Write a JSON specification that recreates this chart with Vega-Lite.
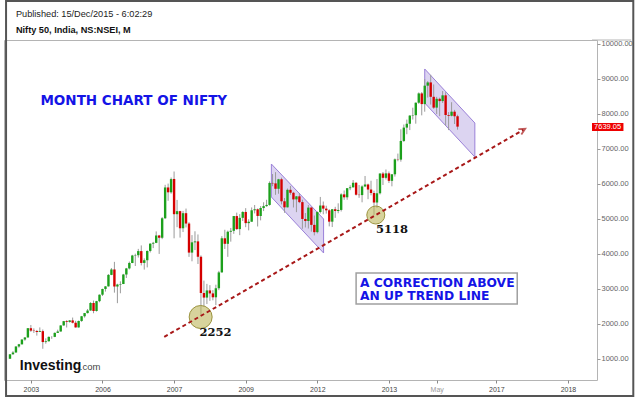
{
  "$schema": "https://vega.github.io/schema/vega-lite/v6.json",
  "width": 593,
  "height": 340,
  "autosize": {"type": "none"},
  "padding": {"left": 4, "top": 40, "right": 43, "bottom": 17},
  "background": "white",
  "config": {"view": {"stroke": "#b4b4b4", "strokeWidth": 1}, "font": "Liberation Sans"},
  "resolve": {"axis": {"x": "independent", "y": "independent"}},
  "datasets": {
    "candles": [
      {"i":0,"open":1007,"high":1139,"low":1006,"close":1134},
      {"i":1,"open":1134,"high":1225,"low":1120,"close":1185},
      {"i":2,"open":1185,"high":1366,"low":1180,"close":1356},
      {"i":3,"open":1356,"high":1432,"low":1322,"close":1418},
      {"i":4,"open":1418,"high":1564,"low":1418,"close":1556},
      {"i":5,"open":1556,"high":1626,"low":1520,"close":1615},
      {"i":6,"open":1615,"high":1884,"low":1612,"close":1880},
      {"i":7,"open":1880,"high":1972,"low":1775,"close":1810},
      {"i":8,"open":1810,"high":1875,"low":1745,"close":1801},
      {"i":9,"open":1801,"high":1830,"low":1668,"close":1772},
      {"i":10,"open":1772,"high":1903,"low":1769,"close":1796},
      {"i":11,"open":1796,"high":1843,"low":1292,"close":1484},
      {"i":12,"open":1484,"high":1590,"low":1437,"close":1506},
      {"i":13,"open":1506,"high":1645,"low":1500,"close":1632},
      {"i":14,"open":1632,"high":1652,"low":1576,"close":1632},
      {"i":15,"open":1632,"high":1760,"low":1624,"close":1746},
      {"i":16,"open":1746,"high":1838,"low":1745,"close":1786},
      {"i":17,"open":1786,"high":1962,"low":1780,"close":1959},
      {"i":18,"open":1959,"high":2088,"low":1950,"close":2081},
      {"i":19,"open":2081,"high":2110,"low":1900,"close":2058},
      {"i":20,"open":2058,"high":2111,"low":2040,"close":2103},
      {"i":21,"open":2103,"high":2184,"low":2017,"close":2036},
      {"i":22,"open":2036,"high":2091,"low":1897,"close":1902},
      {"i":23,"open":1902,"high":2096,"low":1896,"close":2087},
      {"i":24,"open":2087,"high":2230,"low":2061,"close":2221},
      {"i":25,"open":2221,"high":2316,"low":2182,"close":2312},
      {"i":26,"open":2312,"high":2429,"low":2300,"close":2385},
      {"i":27,"open":2385,"high":2623,"low":2380,"close":2601},
      {"i":28,"open":2601,"high":2669,"low":2307,"close":2371},
      {"i":29,"open":2371,"high":2661,"low":2355,"close":2653},
      {"i":30,"open":2653,"high":2844,"low":2621,"close":2837},
      {"i":31,"open":2837,"high":3008,"low":2800,"close":3001},
      {"i":32,"open":3001,"high":3082,"low":2926,"close":3075},
      {"i":33,"open":3075,"high":3426,"low":3070,"close":3403},
      {"i":34,"open":3403,"high":3598,"low":3395,"close":3558},
      {"i":35,"open":3558,"high":3775,"low":2896,"close":3071},
      {"i":36,"open":3071,"high":3150,"low":2595,"close":3128},
      {"i":37,"open":3128,"high":3218,"low":2878,"close":3143},
      {"i":38,"open":3143,"high":3432,"low":3140,"close":3414},
      {"i":39,"open":3414,"high":3603,"low":3314,"close":3588},
      {"i":40,"open":3588,"high":3783,"low":3558,"close":3744},
      {"i":41,"open":3744,"high":3976,"low":3737,"close":3955},
      {"i":42,"open":3955,"high":4009,"low":3657,"close":3966},
      {"i":43,"open":3966,"high":4146,"low":3898,"close":4083},
      {"i":44,"open":4083,"high":4245,"low":3674,"close":3745},
      {"i":45,"open":3745,"high":3875,"low":3554,"close":3822},
      {"i":46,"open":3822,"high":4102,"low":3617,"close":4087},
      {"i":47,"open":4087,"high":4306,"low":4044,"close":4296},
      {"i":48,"open":4296,"high":4346,"low":4168,"close":4318},
      {"i":49,"open":4318,"high":4645,"low":4310,"close":4529},
      {"i":50,"open":4529,"high":4545,"low":4002,"close":4464},
      {"i":51,"open":4464,"high":5055,"low":4424,"close":5021},
      {"i":52,"open":5021,"high":5977,"low":5003,"close":5901},
      {"i":53,"open":5901,"high":6011,"low":5520,"close":5762},
      {"i":54,"open":5762,"high":6185,"low":5722,"close":6139},
      {"i":55,"open":6144,"high":6357,"low":4448,"close":5137},
      {"i":56,"open":5137,"high":5545,"low":4766,"close":5224},
      {"i":57,"open":5224,"high":5234,"low":4468,"close":4735},
      {"i":58,"open":4735,"high":5230,"low":4628,"close":5166},
      {"i":59,"open":5166,"high":5298,"low":4758,"close":4870},
      {"i":60,"open":4870,"high":4908,"low":3918,"close":4040},
      {"i":61,"open":4040,"high":4540,"low":3791,"close":4333},
      {"i":62,"open":4333,"high":4649,"low":4112,"close":4360},
      {"i":63,"open":4360,"high":4558,"low":3715,"close":3921},
      {"i":64,"open":3921,"high":3960,"low":2253,"close":2885},
      {"i":65,"open":2885,"high":3240,"low":2502,"close":2755},
      {"i":66,"open":2755,"high":3147,"low":2570,"close":2959},
      {"i":67,"open":2959,"high":3110,"low":2661,"close":2874},
      {"i":68,"open":2874,"high":2969,"low":2677,"close":2763},
      {"i":69,"open":2763,"high":3123,"low":2539,"close":3021},
      {"i":70,"open":3021,"high":3518,"low":2967,"close":3474},
      {"i":71,"open":3474,"high":4509,"low":3468,"close":4449},
      {"i":72,"open":4449,"high":4693,"low":4143,"close":4291},
      {"i":73,"open":4291,"high":4669,"low":3919,"close":4636},
      {"i":74,"open":4636,"high":4744,"low":4353,"close":4662},
      {"i":75,"open":4662,"high":5087,"low":4576,"close":5084},
      {"i":76,"open":5084,"high":5182,"low":4687,"close":4712},
      {"i":77,"open":4712,"high":5139,"low":4538,"close":5033},
      {"i":78,"open":5033,"high":5221,"low":4944,"close":5201},
      {"i":79,"open":5201,"high":5310,"low":4766,"close":4882},
      {"i":80,"open":4882,"high":4993,"low":4675,"close":4922},
      {"i":81,"open":4922,"high":5330,"low":4920,"close":5249},
      {"i":82,"open":5249,"high":5400,"low":5160,"close":5278},
      {"i":83,"open":5278,"high":5300,"low":4786,"close":5087},
      {"i":84,"open":5087,"high":5367,"low":4961,"close":5313},
      {"i":85,"open":5313,"high":5478,"low":5226,"close":5368},
      {"i":86,"open":5368,"high":5549,"low":5349,"close":5402},
      {"i":87,"open":5402,"high":6074,"low":5380,"close":6030},
      {"i":88,"open":6030,"high":6284,"low":5937,"close":6018},
      {"i":89,"open":6018,"high":6338,"low":5690,"close":5863},
      {"i":90,"open":5863,"high":6147,"low":5721,"close":6135},
      {"i":91,"open":6135,"high":6181,"low":5416,"close":5506},
      {"i":92,"open":5506,"high":5599,"low":5178,"close":5333},
      {"i":93,"open":5333,"high":5872,"low":5330,"close":5834},
      {"i":94,"open":5834,"high":5944,"low":5693,"close":5749},
      {"i":95,"open":5749,"high":5775,"low":5329,"close":5560},
      {"i":96,"open":5560,"high":5657,"low":5195,"close":5647},
      {"i":97,"open":5647,"high":5740,"low":5453,"close":5482},
      {"i":98,"open":5482,"high":5551,"low":4720,"close":5001},
      {"i":99,"open":5001,"high":5170,"low":4758,"close":4943},
      {"i":100,"open":4943,"high":5399,"low":4728,"close":5326},
      {"i":101,"open":5326,"high":5340,"low":4639,"close":4832},
      {"i":102,"open":4832,"high":5099,"low":4531,"close":4624},
      {"i":103,"open":4624,"high":5217,"low":4588,"close":5199},
      {"i":104,"open":5199,"high":5630,"low":5159,"close":5385},
      {"i":105,"open":5385,"high":5499,"low":5135,"close":5296},
      {"i":106,"open":5296,"high":5379,"low":5154,"close":5248},
      {"i":107,"open":5248,"high":5279,"low":4789,"close":4924},
      {"i":108,"open":4924,"high":5286,"low":4770,"close":5279},
      {"i":109,"open":5279,"high":5348,"low":5032,"close":5229},
      {"i":110,"open":5229,"high":5448,"low":5164,"close":5259},
      {"i":111,"open":5259,"high":5735,"low":5215,"close":5703},
      {"i":112,"open":5703,"high":5815,"low":5548,"close":5620},
      {"i":113,"open":5620,"high":5885,"low":5549,"close":5880},
      {"i":114,"open":5880,"high":5965,"low":5823,"close":5905},
      {"i":115,"open":5905,"high":6112,"low":5900,"close":6035},
      {"i":116,"open":6035,"high":6053,"low":5671,"close":5693},
      {"i":117,"open":5693,"high":5971,"low":5604,"close":5683},
      {"i":118,"open":5683,"high":5963,"low":5477,"close":5930},
      {"i":119,"open":5930,"high":6229,"low":5910,"close":5986},
      {"i":120,"open":5986,"high":6011,"low":5566,"close":5842},
      {"i":121,"open":5842,"high":6094,"low":5676,"close":5742},
      {"i":122,"open":5742,"high":5808,"low":5118,"close":5471},
      {"i":123,"open":5471,"high":6142,"low":5318,"close":5735},
      {"i":124,"open":5735,"high":6309,"low":5700,"close":6299},
      {"i":125,"open":6299,"high":6343,"low":5972,"close":6176},
      {"i":126,"open":6176,"high":6415,"low":6129,"close":6304},
      {"i":127,"open":6304,"high":6358,"low":6027,"close":6090},
      {"i":128,"open":6090,"high":6283,"low":5933,"close":6277},
      {"i":129,"open":6277,"high":6730,"low":6212,"close":6704},
      {"i":130,"open":6704,"high":6869,"low":6650,"close":6696},
      {"i":131,"open":6696,"high":7563,"low":6638,"close":7230},
      {"i":132,"open":7230,"high":7700,"low":7200,"close":7611},
      {"i":133,"open":7611,"high":7840,"low":7422,"close":7721},
      {"i":134,"open":7721,"high":7968,"low":7540,"close":7954},
      {"i":135,"open":7954,"high":8180,"low":7841,"close":7965},
      {"i":136,"open":7965,"high":8330,"low":7723,"close":8322},
      {"i":137,"open":8322,"high":8617,"low":8290,"close":8588},
      {"i":138,"open":8588,"high":8626,"low":7961,"close":8283},
      {"i":139,"open":8283,"high":8996,"low":8065,"close":8809},
      {"i":140,"open":8809,"high":8941,"low":8470,"close":8902},
      {"i":141,"open":8902,"high":9119,"low":8269,"close":8491},
      {"i":142,"open":8491,"high":8844,"low":8145,"close":8182},
      {"i":143,"open":8182,"high":8489,"low":7997,"close":8434},
      {"i":144,"open":8434,"high":8467,"low":7940,"close":8369},
      {"i":145,"open":8369,"high":8655,"low":8315,"close":8533},
      {"i":146,"open":8533,"high":8622,"low":7667,"close":7971},
      {"i":147,"open":7971,"high":8055,"low":7540,"close":7949},
      {"i":148,"open":7949,"high":8336,"low":7931,"close":8066},
      {"i":149,"open":8066,"high":8117,"low":7714,"close":7935},
      {"i":150,"open":7935,"high":7979,"low":7552,"close":7639}
    ]
  },
  "layer": [
    {
      "data": {"values": [
        {"ch": "a", "i": 87.6, "top": 6571, "bot": 5629},
        {"ch": "a", "i": 105.1, "top": 5000, "bot": 4029},
        {"ch": "b", "i": 139.0, "top": 9286, "bot": 8314},
        {"ch": "b", "i": 155.8, "top": 7743, "bot": 6771}
      ]},
      "mark": {"type": "area", "fill": "#8a70d0", "fillOpacity": 0.3, "stroke": "#9a80d8", "strokeWidth": 1, "interpolate": "linear"},
      "encoding": {
        "x": {"field": "i", "type": "quantitative", "scale": {"domain": [-0.33, 195.06], "nice": false, "zero": false},
          "axis": {"title": null, "orient": "bottom", "values": [7, 31, 55, 79, 103, 127, 143, 163, 187],
            "labelExpr": "datum.value < 20 ? '2003' : datum.value < 40 ? '2006' : datum.value < 60 ? '2007' : datum.value < 90 ? '2009' : datum.value < 110 ? '2012' : datum.value < 135 ? '2013' : datum.value < 150 ? 'May' : datum.value < 170 ? '2017' : '2018'",
            "labelFontSize": 7, "labelFont": "Liberation Sans",
            "labelColor": {"condition": {"test": "datum.value == 143", "value": "#9a9a9a"}, "value": "#444444"},
            "tickSize": 3, "tickColor": "#888888", "domain": false, "grid": false, "labelPadding": 2}},
        "y": {"field": "top", "type": "quantitative", "scale": {"domain": [400, 10114], "nice": false, "zero": false},
          "axis": {"title": null, "orient": "right", "values": [1000, 2000, 3000, 4000, 5000, 6000, 7000, 8000, 9000, 10000],
            "format": ".2f", "labelFontSize": 7.5, "labelFont": "Liberation Sans", "labelColor": "#666666",
            "tickSize": 3, "tickColor": "#999999", "domain": false, "grid": false, "labelPadding": 1}},
        "y2": {"field": "bot"},
        "detail": {"field": "ch"}
      }
    },
    {
      "data": {"values": [{}]},
      "mark": {"type": "rect", "fill": null, "stroke": "#555555", "strokeWidth": 2, "clip": false},
      "encoding": {
        "x": {"datum": -1.318, "type": "quantitative", "scale": {"domain": [-0.33, 195.06], "nice": false, "zero": false}, "axis": null},
        "x2": {"datum": 208.9},
        "y": {"datum": 11228, "type": "quantitative", "scale": {"domain": [400, 10114], "nice": false, "zero": false}, "axis": null},
        "y2": {"datum": -57}
      }
    },
    {
      "data": {"values": [{}]},
      "mark": {"type": "rule", "color": "#b4b4b4", "strokeWidth": 1, "clip": false},
      "encoding": {
        "x": {"datum": 195.06, "type": "quantitative", "scale": {"domain": [-0.33, 195.06], "nice": false, "zero": false}, "axis": null},
        "x2": {"datum": 208.2},
        "y": {"datum": 10114, "type": "quantitative", "scale": {"domain": [400, 10114], "nice": false, "zero": false}, "axis": null}
      }
    },
    {
      "data": {"name": "candles"},
      "mark": {"type": "rule", "color": "#9a9a9a", "strokeWidth": 1},
      "encoding": {
        "x": {"field": "i", "type": "quantitative", "scale": {"domain": [-0.33, 195.06], "nice": false, "zero": false}, "axis": null},
        "y": {"field": "low", "type": "quantitative", "scale": {"domain": [400, 10114], "nice": false, "zero": false}, "axis": null},
        "y2": {"field": "high"}
      }
    },
    {
      "data": {"name": "candles"},
      "mark": {"type": "bar", "width": 2.4},
      "encoding": {
        "x": {"field": "i", "type": "quantitative", "scale": {"domain": [-0.33, 195.06], "nice": false, "zero": false}, "axis": null},
        "y": {"field": "open", "type": "quantitative", "scale": {"domain": [400, 10114], "nice": false, "zero": false}, "axis": null},
        "y2": {"field": "close"},
        "color": {"condition": {"test": "datum.close >= datum.open", "value": "#1ca01c"}, "value": "#d40000"}
      }
    },
    {
      "data": {"values": [{}]},
      "mark": {"type": "point", "shape": "circle", "filled": true, "size": 529, "fill": "#bdb55a", "fillOpacity": 0.6, "stroke": "#9c9440", "strokeWidth": 1},
      "encoding": {
        "x": {"datum": 63.9, "type": "quantitative", "scale": {"domain": [-0.33, 195.06], "nice": false, "zero": false}, "axis": null},
        "y": {"datum": 2200, "type": "quantitative", "scale": {"domain": [400, 10114], "nice": false, "zero": false}, "axis": null}
      }
    },
    {
      "data": {"values": [{}]},
      "mark": {"type": "point", "shape": "circle", "filled": true, "size": 324, "fill": "#bdb55a", "fillOpacity": 0.6, "stroke": "#9c9440", "strokeWidth": 1},
      "encoding": {
        "x": {"datum": 122.6, "type": "quantitative", "scale": {"domain": [-0.33, 195.06], "nice": false, "zero": false}, "axis": null},
        "y": {"datum": 5114, "type": "quantitative", "scale": {"domain": [400, 10114], "nice": false, "zero": false}, "axis": null}
      }
    },
    {
      "data": {"values": [{}]},
      "mark": {"type": "rule", "color": "#a81818", "strokeWidth": 2, "strokeDash": [4, 3]},
      "encoding": {
        "x": {"datum": 51.7, "type": "quantitative", "scale": {"domain": [-0.33, 195.06], "nice": false, "zero": false}, "axis": null},
        "x2": {"datum": 172.0},
        "y": {"datum": 1629, "type": "quantitative", "scale": {"domain": [400, 10114], "nice": false, "zero": false}, "axis": null},
        "y2": {"datum": 7543}
      }
    },
    {
      "data": {"values": [{}]},
      "mark": {"type": "point", "shape": "M -1 -0.8 L 0.6 0 L -1 0.8", "filled": false, "size": 60, "stroke": "#a81818", "strokeWidth": 1.8, "angle": 330.45},
      "encoding": {
        "x": {"datum": 172.0, "type": "quantitative", "scale": {"domain": [-0.33, 195.06], "nice": false, "zero": false}, "axis": null},
        "y": {"datum": 7543, "type": "quantitative", "scale": {"domain": [400, 10114], "nice": false, "zero": false}, "axis": null}
      }
    },
    {
      "data": {"values": [{}]},
      "mark": {"type": "text", "font": "DejaVu Serif", "fontWeight": "bold", "fontSize": 11.5, "color": "#111111", "align": "center", "baseline": "middle"},
      "encoding": {
        "x": {"datum": 68.9, "type": "quantitative", "scale": {"domain": [-0.33, 195.06], "nice": false, "zero": false}, "axis": null},
        "y": {"datum": 1743, "type": "quantitative", "scale": {"domain": [400, 10114], "nice": false, "zero": false}, "axis": null},
        "text": {"value": "2252"}
      }
    },
    {
      "data": {"values": [{}]},
      "mark": {"type": "text", "font": "DejaVu Serif", "fontWeight": "bold", "fontSize": 11.5, "color": "#111111", "align": "center", "baseline": "middle"},
      "encoding": {
        "x": {"datum": 128.0, "type": "quantitative", "scale": {"domain": [-0.33, 195.06], "nice": false, "zero": false}, "axis": null},
        "y": {"datum": 4686, "type": "quantitative", "scale": {"domain": [400, 10114], "nice": false, "zero": false}, "axis": null},
        "text": {"value": "5118"}
      }
    },
    {
      "data": {"values": [{}]},
      "mark": {"type": "text", "font": "DejaVu Sans", "fontWeight": "bold", "fontSize": 13.5, "color": "#1414e6", "align": "left", "baseline": "alphabetic"},
      "encoding": {
        "x": {"datum": 10.2, "type": "quantitative", "scale": {"domain": [-0.33, 195.06], "nice": false, "zero": false}, "axis": null},
        "y": {"datum": 8257, "type": "quantitative", "scale": {"domain": [400, 10114], "nice": false, "zero": false}, "axis": null},
        "text": {"value": "MONTH CHART OF NIFTY"}
      }
    },
    {
      "data": {"values": [{}]},
      "mark": {"type": "rect", "fill": "white", "stroke": "#a0a0a0", "strokeWidth": 1.5},
      "encoding": {
        "x": {"datum": 116.0, "type": "quantitative", "scale": {"domain": [-0.33, 195.06], "nice": false, "zero": false}, "axis": null},
        "x2": {"datum": 170.0},
        "y": {"datum": 3457, "type": "quantitative", "scale": {"domain": [400, 10114], "nice": false, "zero": false}, "axis": null},
        "y2": {"datum": 2571}
      }
    },
    {
      "data": {"values": [{}]},
      "mark": {"type": "text", "font": "DejaVu Sans", "fontWeight": "bold", "fontSize": 12.3, "color": "#1414e6", "align": "left", "baseline": "alphabetic"},
      "encoding": {
        "x": {"datum": 117.3, "type": "quantitative", "scale": {"domain": [-0.33, 195.06], "nice": false, "zero": false}, "axis": null},
        "y": {"datum": 3057, "type": "quantitative", "scale": {"domain": [400, 10114], "nice": false, "zero": false}, "axis": null},
        "text": {"value": "A CORRECTION ABOVE"}
      }
    },
    {
      "data": {"values": [{}]},
      "mark": {"type": "text", "font": "DejaVu Sans", "fontWeight": "bold", "fontSize": 12.3, "color": "#1414e6", "align": "left", "baseline": "alphabetic"},
      "encoding": {
        "x": {"datum": 117.3, "type": "quantitative", "scale": {"domain": [-0.33, 195.06], "nice": false, "zero": false}, "axis": null},
        "y": {"datum": 2686, "type": "quantitative", "scale": {"domain": [400, 10114], "nice": false, "zero": false}, "axis": null},
        "text": {"value": "AN UP TREND LINE"}
      }
    },
    {
      "data": {"values": [{}]},
      "mark": {"type": "rect", "fill": "#ee0000", "clip": false},
      "encoding": {
        "x": {"datum": 195.06, "type": "quantitative", "scale": {"domain": [-0.33, 195.06], "nice": false, "zero": false}, "axis": null},
        "x2": {"datum": 205.6},
        "y": {"datum": 7743, "type": "quantitative", "scale": {"domain": [400, 10114], "nice": false, "zero": false}, "axis": null},
        "y2": {"datum": 7514}
      }
    },
    {
      "data": {"values": [{}]},
      "mark": {"type": "text", "font": "Liberation Sans", "fontSize": 7.5, "color": "white", "align": "center", "baseline": "middle", "clip": false},
      "encoding": {
        "x": {"datum": 200.3, "type": "quantitative", "scale": {"domain": [-0.33, 195.06], "nice": false, "zero": false}, "axis": null},
        "y": {"datum": 7629, "type": "quantitative", "scale": {"domain": [400, 10114], "nice": false, "zero": false}, "axis": null},
        "text": {"value": "7639.05"}
      }
    },
    {
      "data": {"values": [{}]},
      "mark": {"type": "text", "font": "Liberation Sans", "fontSize": 9.2, "color": "#222222", "align": "left", "baseline": "alphabetic", "clip": false},
      "encoding": {
        "x": {"datum": 1.98, "type": "quantitative", "scale": {"domain": [-0.33, 195.06], "nice": false, "zero": false}, "axis": null},
        "y": {"datum": 10763, "type": "quantitative", "scale": {"domain": [400, 10114], "nice": false, "zero": false}, "axis": null},
        "text": {"value": "Published: 15/Dec/2015 - 6:02:29"}
      }
    },
    {
      "data": {"values": [{}]},
      "mark": {"type": "text", "font": "Liberation Sans", "fontWeight": "bold", "fontSize": 9.2, "color": "#111111", "align": "left", "baseline": "alphabetic", "clip": false},
      "encoding": {
        "x": {"datum": 1.98, "type": "quantitative", "scale": {"domain": [-0.33, 195.06], "nice": false, "zero": false}, "axis": null},
        "y": {"datum": 10306, "type": "quantitative", "scale": {"domain": [400, 10114], "nice": false, "zero": false}, "axis": null},
        "text": {"value": "Nifty 50, India, NS:NSEI, M"}
      }
    },
    {
      "data": {"values": [{}]},
      "mark": {"type": "text", "font": "Liberation Sans", "fontWeight": "bold", "fontSize": 14, "color": "#111111", "align": "left", "baseline": "alphabetic"},
      "encoding": {
        "x": {"datum": 3.3, "type": "quantitative", "scale": {"domain": [-0.33, 195.06], "nice": false, "zero": false}, "axis": null},
        "y": {"datum": 686, "type": "quantitative", "scale": {"domain": [400, 10114], "nice": false, "zero": false}, "axis": null},
        "text": {"value": "Investing"}
      }
    },
    {
      "data": {"values": [{}]},
      "mark": {"type": "text", "font": "Liberation Sans", "fontSize": 9.5, "color": "#444444", "align": "left", "baseline": "alphabetic"},
      "encoding": {
        "x": {"datum": 23.4, "type": "quantitative", "scale": {"domain": [-0.33, 195.06], "nice": false, "zero": false}, "axis": null},
        "y": {"datum": 686, "type": "quantitative", "scale": {"domain": [400, 10114], "nice": false, "zero": false}, "axis": null},
        "text": {"value": ".com"}
      }
    }
  ]
}
